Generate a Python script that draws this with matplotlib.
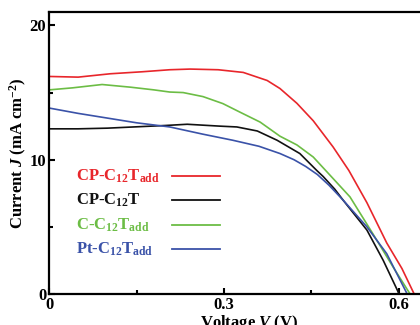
import matplotlib
matplotlib.use('Agg')
import matplotlib.pyplot as plt
from matplotlib.ticker import MultipleLocator

# J-V curves (voltage in V, current density in mA cm-2)
v_red = [0, 0.05, 0.105, 0.16, 0.207, 0.242, 0.29, 0.333, 0.374, 0.396, 0.425,
         0.453, 0.487, 0.514, 0.545, 0.579, 0.605, 0.626]
j_red = [16.2, 16.15, 16.4, 16.55, 16.7, 16.75, 16.7, 16.5, 15.9, 15.3, 14.2,
         12.9, 10.95, 9.2, 6.8, 3.8, 1.9, 0]

v_black = [0, 0.05, 0.1, 0.15, 0.2, 0.237, 0.293, 0.322, 0.357, 0.391, 0.43,
           0.459, 0.47, 0.49, 0.504, 0.545, 0.573, 0.597, 0.6]
j_black = [12.3, 12.3, 12.35, 12.45, 12.55, 12.64, 12.5, 12.44, 12.14, 11.45, 10.46,
           9.2, 8.75, 7.8, 7.0, 4.76, 2.5, 0.3, 0]

v_green = [0, 0.04, 0.091, 0.14, 0.18, 0.207, 0.23, 0.264, 0.298, 0.327, 0.362,
           0.396, 0.425, 0.453, 0.487, 0.516, 0.555, 0.59, 0.619]
j_green = [15.2, 15.35, 15.6, 15.4, 15.2, 15.04, 15.0, 14.7, 14.18, 13.55, 12.8,
           11.75, 11.1, 10.2, 8.6, 7.23, 4.5, 2.0, 0]

v_blue = [0, 0.05, 0.1, 0.15, 0.207, 0.264, 0.315, 0.36, 0.396, 0.42, 0.44, 0.46,
          0.48, 0.504, 0.545, 0.579, 0.614]
j_blue = [13.85, 13.45, 13.1, 12.75, 12.44, 11.9, 11.45, 11.0, 10.46, 10.0, 9.5, 8.9,
          8.1, 7.0, 5.0, 3.0, 0]

labels = [r'CP-C$_{12}$T$_{add}$', r'CP-C$_{12}$T', r'C-C$_{12}$T$_{add}$', r'Pt-C$_{12}$T$_{add}$']
colors = ['#e8262b', '#111111', '#6cbd45', '#3a52a8']

plt.rcParams['font.family'] = ['Liberation Serif', 'DejaVu Serif']
plt.rcParams['font.weight'] = 'bold'
plt.rcParams['mathtext.fontset'] = 'custom'
plt.rcParams['mathtext.rm'] = 'Liberation Serif:bold'
plt.rcParams['mathtext.bf'] = 'Liberation Serif:bold'
plt.rcParams['mathtext.it'] = 'Liberation Serif:italic:bold'
plt.rcParams['mathtext.default'] = 'bf'

fig = plt.figure(figsize=(4.2, 3.25), dpi=100)
ax = fig.add_axes([49 / 420, 31 / 325, 371 / 420, 282 / 325])

curves = [(v_red, j_red), (v_black, j_black), (v_green, j_green), (v_blue, j_blue)]
for (v, j), c in zip(curves, colors):
    ax.plot(v, j, color=c, lw=1.2)

ax.set_xlim(0, 0.636)
ax.set_ylim(0, 21)
ax.xaxis.set_major_locator(MultipleLocator(0.3))
ax.xaxis.set_minor_locator(MultipleLocator(0.15))
ax.yaxis.set_major_locator(MultipleLocator(10))
ax.yaxis.set_minor_locator(MultipleLocator(5))
ax.set_xticklabels([f'{t:g}' for t in ax.get_xticks()])

ax.tick_params(which='both', direction='in', width=1.5, labelsize=12)
ax.tick_params(which='major', length=4)
ax.tick_params(which='minor', length=3)
ax.tick_params(axis='y', pad=2)
ax.tick_params(axis='x', pad=2)
for s in ['left', 'bottom', 'top']:
    ax.spines[s].set_linewidth(1.6)
ax.spines['right'].set_visible(False)

ax.set_xlabel(r'Voltage $\mathit{V}$ (V)', fontsize=12, fontweight='bold')
ax.xaxis.set_label_coords(0.539, -0.069)
ax.set_ylabel(r'Current $\mathit{J}$ (mA cm$^{-2}$)', fontsize=12, fontweight='bold')
ax.yaxis.set_label_coords(-0.054, 0.5)

# hand-placed legend: text on the left, line key on the right
for i, (lab, c) in enumerate(zip(labels, colors)):
    y = 0.419 - i * 0.087
    ax.text(0.073, y, lab, color=c, fontsize=12, fontweight='bold',
            va='center', ha='left', transform=ax.transAxes)
    ax.plot([0.332, 0.461], [y, y], color=c, lw=1.3, transform=ax.transAxes)

fig.savefig('out.png', dpi=100)
